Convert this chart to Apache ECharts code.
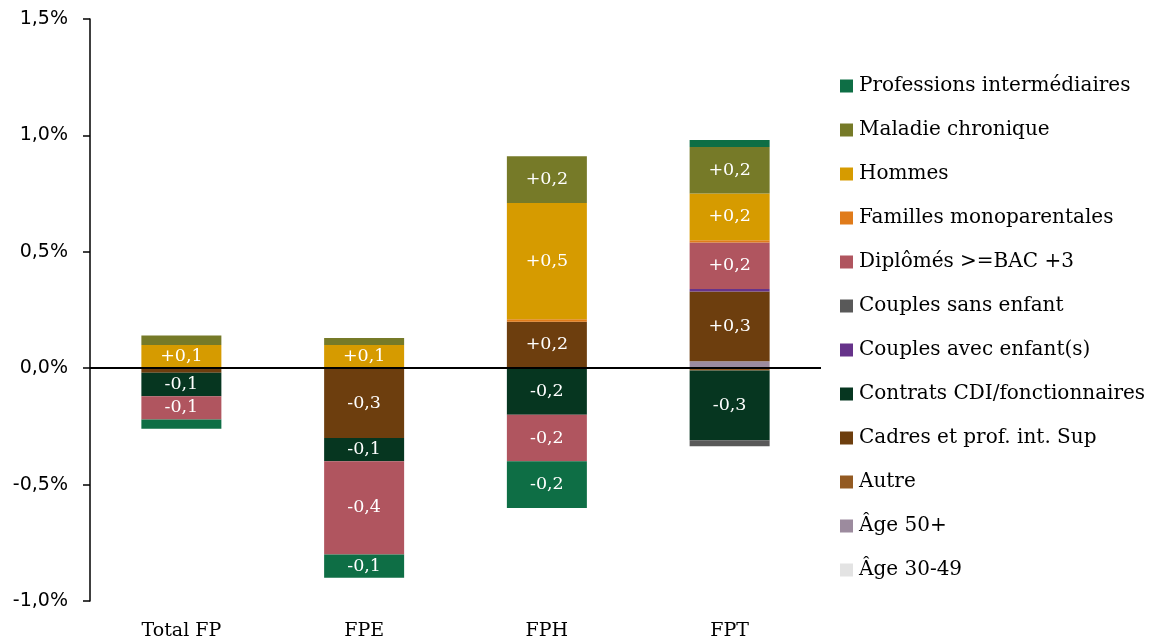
<!DOCTYPE html>
<html>
<head>
<meta charset="utf-8">
<script src="https://cdn.jsdelivr.net/npm/echarts@6/dist/echarts.min.js"></script>
<style>
  html, body { margin: 0; padding: 0; background: #fff; }
  #chart { width: 1156px; height: 643px; }
</style>
</head>
<body>
<div id="chart"></div>
<script>
// categories (x axis)
const categories = ['Total FP', 'FPE', 'FPH', 'FPT']

// contributions in points of %, one array per factor (same order as categories)
const age3049 = [0, 0, 0, 0]
const age50 = [0, 0, 0, 0.03]
const autre = [0, 0, 0, -0.01]
const cadres = [-0.02, -0.30, 0.20, 0.30]
const contrats = [-0.10, -0.10, -0.20, -0.30]
const couplesAvec = [0, 0, 0, 0.01]
const couplesSans = [0, 0, 0, -0.025]
const diplomes = [-0.10, -0.40, -0.20, 0.20]
const familles = [0, 0, 0.01, 0.01]
const hommes = [0.10, 0.10, 0.50, 0.20]
const maladie = [0.04, 0.03, 0.20, 0.20]
const professions = [-0.04, -0.10, -0.20, 0.03]

// y axis ticks
const yMin = -1.0
const yMax = 1.5
const yStep = 0.5

// stacking order, bottom to top
const seriesDefs = [
  { name: 'Âge 30-49', data: age3049, color: '#E3E3E3' },
  { name: 'Âge 50+', data: age50, color: '#9C8B9E' },
  { name: 'Autre', data: autre, color: '#935A22' },
  { name: 'Cadres et prof. int. Sup', data: cadres, color: '#6D3E0E' },
  { name: 'Contrats CDI/fonctionnaires', data: contrats, color: '#063620' },
  { name: 'Couples avec enfant(s)', data: couplesAvec, color: '#66338A' },
  { name: 'Couples sans enfant', data: couplesSans, color: '#595959' },
  { name: 'Diplômés >=BAC +3', data: diplomes, color: '#B0555F' },
  { name: 'Familles monoparentales', data: familles, color: '#E07B1A' },
  { name: 'Hommes', data: hommes, color: '#D69B00' },
  { name: 'Maladie chronique', data: maladie, color: '#767A28' },
  { name: 'Professions intermédiaires', data: professions, color: '#0E6E45' }
]

const serif = 'DejaVu Serif'

function fmtLabel(v) {
  if (Math.abs(v) < 0.05) return ''
  const s = Math.abs(v).toFixed(1).replace('.', ',')
  return (v > 0 ? '+' : '-') + s
}

const series = seriesDefs.map((d, i) => {
  const s = {
    name: d.name,
    type: 'bar',
    stack: 'total',
    barWidth: 80,
    data: d.data,
    itemStyle: { color: d.color },
    label: {
      show: true,
      position: 'inside',
      color: '#fff',
      fontFamily: serif,
      fontSize: 17.5,
      formatter: p => fmtLabel(p.value)
    },
    emphasis: { disabled: true }
  }
  if (i === seriesDefs.length - 1) {
    // zero line across the plot
    s.markLine = {
      silent: true,
      symbol: ['none', 'none'],
      label: { show: false },
      lineStyle: { color: '#000', width: 2, type: 'solid' },
      data: [{ yAxis: 0 }]
    }
  }
  return s
})

const chart = echarts.init(document.getElementById('chart'))
chart.setOption({
  animation: false,
  grid: {
    left: 90,
    right: 335,
    top: 19,
    bottom: 42
  },
  legend: {
    orient: 'vertical',
    left: 840,
    top: 75,
    padding: 0,
    itemWidth: 13,
    itemHeight: 13,
    itemGap: 22,
    icon: 'rect',
    data: seriesDefs.map(d => d.name).reverse(),
    textStyle: {
      fontFamily: serif,
      fontSize: 20,
      lineHeight: 22,
      color: '#000',
      padding: [0, 0, 0, 1]
    }
  },
  xAxis: {
    type: 'category',
    data: categories,
    axisLine: { show: false },
    axisTick: { show: false },
    axisLabel: {
      margin: 21,
      color: '#000',
      fontFamily: serif,
      fontSize: 19
    }
  },
  yAxis: {
    type: 'value',
    min: yMin,
    max: yMax,
    interval: yStep,
    axisLine: { show: true, lineStyle: { color: '#000', width: 1.5 } },
    axisTick: { show: true, length: 7, lineStyle: { color: '#000', width: 1.5 } },
    splitLine: { show: false },
    axisLabel: {
      margin: 22,
      color: '#000',
      fontFamily: 'DejaVu Sans',
      fontSize: 19,
      formatter: v => v.toFixed(1).replace('.', ',') + '%'
    }
  },
  series: series
})
</script>
</body>
</html>
